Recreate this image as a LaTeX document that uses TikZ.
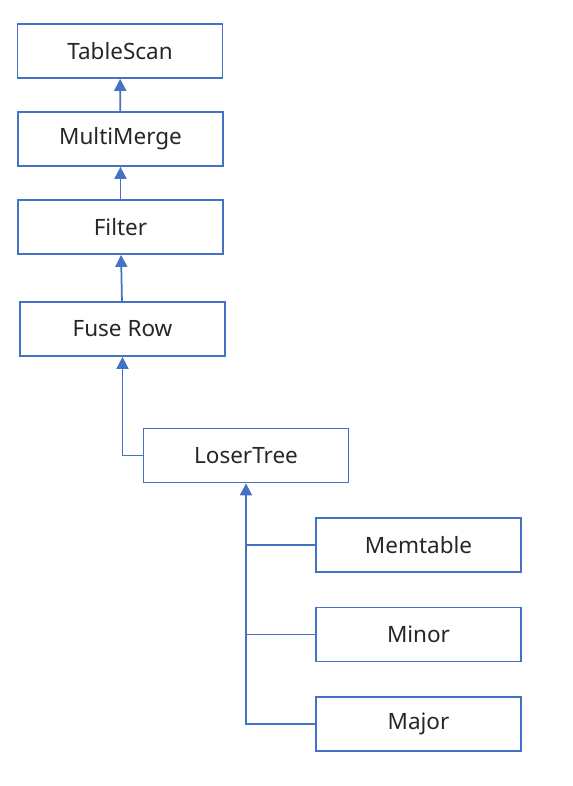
\documentclass[tikz,border=0pt]{standalone}
\usepackage{fontspec}
\setmainfont{Noto Sans}
\usetikzlibrary{arrows.meta,positioning}
\definecolor{lineblue}{HTML}{4472C4}

\begin{document}
\begin{tikzpicture}[x=0.02cm, y=-0.02cm,
  opbox/.style={draw=lineblue, line width=1pt, minimum width=4.1cm, minimum height=1.08cm, align=center, font=\fontsize{12.8}{14}\selectfont, text=black!85},
  flow/.style={-{Triangle[length=2.4mm, width=2.4mm]}, draw=lineblue, line width=1pt},
  link/.style={draw=lineblue, line width=1pt}]
\useasboundingbox (0,0) rectangle (572,786);
\node[opbox] (scan)   at (120,51)    {TableScan};
\node[opbox] (merge)  at (120.5,139) {MultiMerge};
\node[opbox] (filter) at (120.5,227) {Filter};
\node[opbox] (fuse)   at (122.5,329) {Fuse Row};
\node[opbox] (loser)  at (246,455.5) {LoserTree};
\node[opbox] (mem)    at (418.5,545) {Memtable};
\node[opbox] (minor)  at (418.5,634.5) {Minor};
\node[opbox] (major)  at (418.5,724) {Major};

% upward chain
\draw[flow] (merge) -- (scan);
\draw[flow] (filter) -- (merge);
\draw[flow] (fuse) -- (filter);
\draw[flow] (loser.west) -| (fuse.south);

% sources into the loser tree
\draw[flow] (major.west) -| (loser.south);
\draw[link] (mem.west) -- (mem.west -| loser.south);
\draw[link] (minor.west) -- (minor.west -| loser.south);
\end{tikzpicture}
\end{document}
